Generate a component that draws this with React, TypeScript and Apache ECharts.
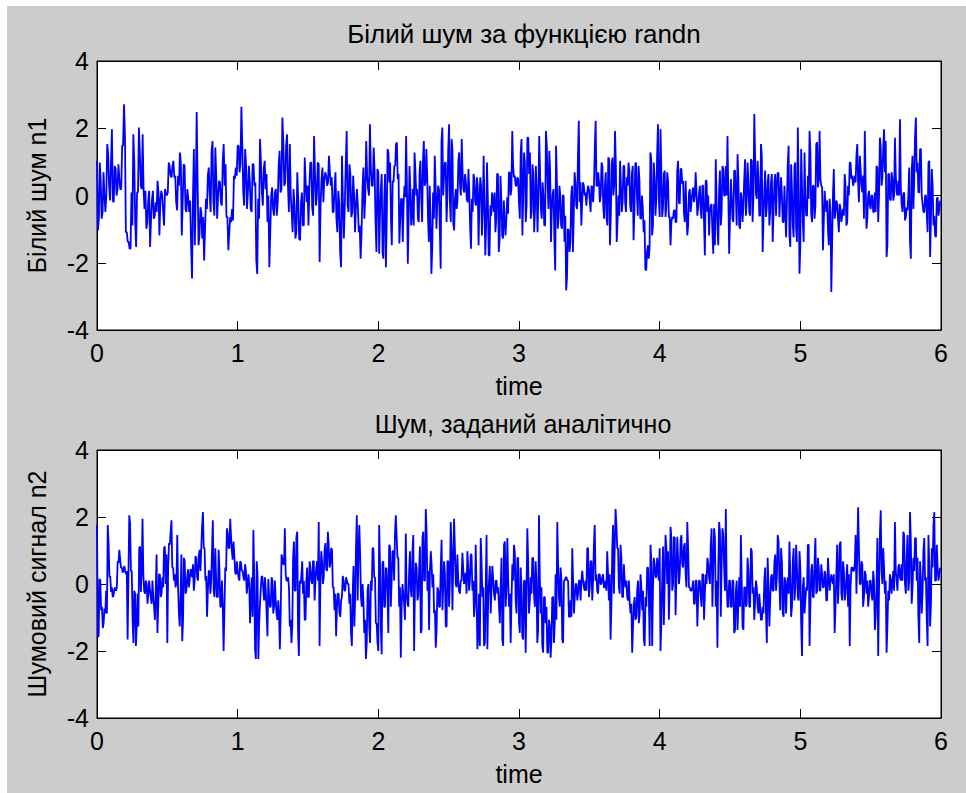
import React, { useEffect, useRef } from "react";
import * as echarts from "echarts";

// ---- data: each entry is one visible stroke [high, low] ----
const n1Part1: [number, number][] = [
  [1.03,-1.04],[0.98,-0.69],[0.44,-0.69],[0.69,-0.49],[0,-0.49],[1.53,0],[1.23,0.29],[0.93,-0.15],[1.97,-0.15],[0.88,-0.2],
  [0.79,0],[0.93,0.19],[0.49,0.19],[1.48,0.19],[2.71,1.48],[1.77,-1.09],[-1.09,-1.38],[-1.38,-1.58],[0.09,-1.58],[1.82,-0.89],
  [1.03,-0.79],[0.09,-1.53],[2.02,0.09],[1.28,0.29],[1.82,0.19],[0.19,-0.4],[0.14,-0.99],[-0.15,-0.79],[0.14,-1.53],[-0.15,-0.69],
  [0.14,-0.69],[-0.2,-0.6],[0.44,-0.49],[0.09,-1.19],[0.14,-0.15],[0,-0.49],[0.19,-0.89],[0.09,0],[0.98,0.09],[0.88,0.59],
  [0.88,0.54],[1.03,0.54],[0.59,-0.2],[0.59,-0.44],[1.28,0.29],[0.98,-1.19],[0.93,-0.2],[0.88,-0.4],[0.19,-0.49],[-0.1,-0.49],
  [-0.15,-1.48],[-0.05,-2.47],[1.38,-1.48],[2.48,0],[0.44,-1.48],[-0.35,-1.19],[-0.49,-1.28],[-0.64,-1.93],[-0.1,-0.99],[0.59,-0.4],
  [0.83,0],[1.33,-0.49],[1.62,-0.2],[1.43,-0.6],[0.59,-0.69],[0.44,0],[0.39,-0.2],[1.03,-0.3],[1.53,0.29],[0.93,-0.64],
  [-0.64,-1.63],[-0.64,-1.09],[-0.4,-0.79],[0.59,-0.74],[0.83,0.49],[1.48,0.59],[1.48,0.69],[2.64,0.98],[1.48,0.09],[1.38,-0.3],
  [0.93,-0.4],[0.88,0.09],[0.44,-0.4],[0.93,-0.49],[0.93,0.29],[0.39,-1.93],[-0.1,-2.33],[1.68,-0.69],[0.98,0.09],[0.79,-0.3],
  [1.03,0.19],[0.64,-0.79],[0,-2.13],[0,-1.09],[0.24,-0.4],[0.09,-0.6],[0.19,-0.6],[0.88,-0.2],[1.33,0.09],[2.32,0.19],
  [1.62,0.29],[1.48,0.39],[1.82,0.29],[1.53,-0.49],[0,-0.49],[0.19,-1.09],[-0.3,-1.28],[0.69,-1.09],[-0.1,-1.28],[-0.2,-1.33],
  [0.09,-0.89],[1.13,-0.89],[0.39,-0.2],[0.29,-0.89],[0.98,0.29],[0.98,-0.35],[1.77,-0.6],[0.69,-0.3],[0.98,0],[0.93,-1.98],
  [0.49,-0.3],[0.83,-0.2],[0.69,0.49],[0.59,0.29],[1.18,0.39],[0.69,0.29],[0.54,-0.49],[0.24,-0.49],[0.69,-0.69],[0.14,-1.09],
  [-0.2,-1.68],[1.18,-2.13],[-0.2,-1.28],[0.93,-0.3],[1.92,-0.3],[0.93,-0.49],[0.64,-0.64],[0.59,-0.49],[0,-1.09],[0.19,-0.3],
  [-0.3,-1.09],[-0.89,-1.88],[0.19,-1.09],[0.83,-0.69],[1.62,0],[0.59,0.19],[2.12,0],[0.79,0.29],[1.43,0.29],[0.74,-0.79],
  [0.79,-1.68],
];
const n1Part2: [number, number][] = [
  [0.69,-1.73],[0.19,-0.54],[0.64,-1.73],[-0.15,-1.88],[0.64,-2.13],[1.38,-0.69],[1.28,0.39],[0.98,-0.69],[0.44,-1.48],[0.88,0.39],
  [1.53,0.88],[1.58,0.49],[0.64,-1.43],[-0.1,-0.69],[-0.1,-1.38],[0.29,-0.3],[1.77,-0.05],[0.19,-2.03],[0.88,-0.69],[0.19,-0.89],
  [0.19,-0.54],[1.28,-0.89],[0.74,0],[0.19,-0.69],[0.74,-0.79],[1.03,-0.1],[1.03,-0.79],[1.62,0.29],[1.38,0.39],[0.59,-0.69],
  [0.29,-1.38],[-0.69,-2.33],[0.09,-1.58],[1.18,-0.69],[0.29,-0.99],[0.29,-0.2],[0.19,-0.99],[1.62,-2.18],[2.02,0],[0.98,0.59],
  [0.98,-0.79],[1.38,0],[2.12,-0.2],[1.68,-0.79],[1.38,-0.84],[-0.1,-1.04],[0.19,-0.4],[1.03,-0.15],[1.28,0.29],[1.68,0],
  [0.69,0.19],[0.64,0.09],[0.39,-0.1],[0.79,-0.2],[0.09,-0.94],[-0.1,-1.58],[0.64,-0.49],[0.49,-0.2],[0.54,-0.3],[0.29,-1.48],
  [0.54,-0.2],[0.29,-1.19],[1.18,-0.4],[-0.3,-1.78],[0.98,-0.89],[-0.1,-1.78],[-0.3,-1.78],[0.09,-0.6],[-0.15,-0.49],[0.09,-1.09],
  [0.64,-0.69],[0.64,-1.68],[0.59,-1.28],[-0.1,-1.19],[-0.15,-1.28],[-0.74,-1.19],[-0.05,-0.69],[0.69,-0.54],[0.69,0],[1.92,0.19],
  [0.88,0.54],[0.59,0.29],[0.54,0.29],[0.49,-0.2],[1.28,-0.69],[1.68,-1.19],[1.28,0],[0.98,-0.79],[1.72,-0.3],[1.72,0.64],
  [1.28,-0.69],[0.93,-0.49],[0.64,-1.09],[0.88,-0.4],[0.09,-1.09],[1.77,0],[0.69,-0.4],[0.39,-0.69],[0,-0.89],[1.92,-0.89],
  [1.48,0.29],[1.33,-0.4],[0.69,-1.38],[0.05,-0.4],[0.19,-1.33],[1.48,-2.23],[0.39,-0.99],[0.29,-0.69],[0,-0.89],[0,-0.99],
  [0,-1.38],[-0.6,-2.82],[-0.99,-2.42],[-1.04,-1.68],[0,-1.38],[0.29,-1.68],[0.69,-0.6],[0.39,-0.3],[1.18,-0.4],[2.22,-0.2],
  [0.39,-0.89],[0.39,-0.2],[0.29,0],[0.09,-0.3],[0.29,0.09],[0.19,-0.15],[0.29,-0.49],[0.24,-0.2],[1.43,0.29],[2.22,0.29],
  [0.69,0.29],[0.39,-0.2],[0.98,0],[0.88,-0.3],[0.29,-0.69],[0.69,-0.69],[1.13,-0.89],[1.08,-1.48],[0.93,-0.6],[1.13,0],
  [1.92,0.29],[0.88,-1.38],[0,-0.79],[1.03,-0.6],[0.34,-0.49],[0.88,-0.2],[0.88,-0.2],[0.54,-0.49],[0.98,0.29],[0.74,-0.3],
  [0.64,-0.49],[0.88,-1.33],[0.93,-0.49],[0.98,0],[0.88,-0.6],[0.44,-0.69],[0,-0.69],[-0.4,-1.09],[-0.74,-2.18],[-1.68,-2.23],
  [-1.48,-1.88],[1.28,-1.58],[1.08,-1.19],[0.98,-0.89],[0.49,-0.6],[1.23,-0.1],[2.12,-0.1],
];
const n1Part3: [number, number][] = [
  [1.97,-0.64],[0.74,-0.64],[0.64,-0.35],[0.74,-0.64],[0.69,-0.3],[0.44,-0.64],[-0.64,-1.48],[-0.64,-0.79],[-0.44,-0.69],[-0.44,-0.79],
  [0.74,-0.79],[1.03,-0.2],[0.79,-0.25],[0.79,0.34],[0.44,-0.49],[0.44,-0.79],[-0.44,-1.19],[0.09,-0.89],[0.19,-0.49],[0.09,-0.2],
  [0.24,-0.2],[0.69,0],[0.09,-0.6],[0.05,-0.35],[0.29,-0.44],[0.29,-0.69],[0.29,-0.79],[0.44,-1.78],[0.44,-0.49],[0,-1.19],
  [-0.3,-0.49],[-0.25,-1.09],[-0.25,-1.73],[1.08,-1.48],[-0.2,-0.99],[0.19,-1.48],[0.74,-0.89],[0.88,-0.49],[0.79,0],[0.88,0],
  [1.77,0],[0.05,-1.73],[0.49,-0.69],[0,-0.69],[0.74,-0.79],[0.74,0],[1.23,-0.89],[0.49,-0.89],[0.09,-0.99],[-0.1,-0.79],
  [0.49,-0.3],[1.08,-0.6],[0.98,-0.1],[0.39,-0.49],[1.08,-0.6],[1.03,-0.79],[2.42,0],[1.13,0.05],[1.03,-0.1],[0.49,-0.6],
  [1.53,-0.6],[1.18,-1.68],[0.14,-0.69],[0.74,-0.64],[0.39,-0.3],[0.64,-0.89],[0.39,-0.49],[0.64,-1.38],[0.39,-0.49],[0.64,-0.6],
  [0.69,0.29],[0.64,-0.64],[0.54,-0.05],[0,-0.79],[0.29,-0.79],[-0.49,-1.24],[0.93,-0.15],[1.48,-1.19],[0.93,-1.53],[0.19,-0.89],
  [0.88,-1.24],[0.98,-0.99],[2.02,-1.38],[0.29,-2.33],[1.38,-1.48],[0.29,-0.79],[1.28,-1.38],[-0.05,-0.6],[0.59,-0.6],[1.92,-0.1],
  [1.33,-0.54],[0.29,-0.79],[0.29,-0.69],[1.53,-0.3],[1.58,0.24],[1.92,0.49],[0.49,0.29],[0.24,-1.63],[0.14,-0.79],[-0.2,-0.49],
  [-0.15,-0.99],[-0.1,-1.48],[-0.49,-2.87],[0.05,-1.38],[0.79,-0.69],[-0.15,-0.49],[-0.25,-0.69],[-0.25,-1.09],[-0.4,-0.79],[-0.4,-0.6],
  [0.64,-0.6],[0.29,-0.89],[0.29,-0.79],[0.98,0],[0.98,0.49],[0.59,0.29],[0.59,0.39],[1.18,0.39],[1.53,0.39],[1.18,-0.2],
  [0.79,0.29],[0.59,0.09],[1.92,-0.69],[0.39,-0.99],[0,-0.69],[0.14,-0.3],[0,-0.4],[0,-0.49],[0.09,-0.49],[0.88,-0.49],
  [0.83,-0.79],[1.72,0],[1.48,0.29],[1.38,0.54],[1.97,0.69],[1.62,-1.83],[0.64,-1.48],[0.64,-0.1],[0.69,-0.15],[0.49,-0.15],
  [1.72,0],[0.59,0.09],[0.44,0],[2.27,0],[0.24,-0.25],[0.05,-0.49],[0.09,-0.74],[-0.35,-0.64],[0,-0.44],[0.83,-1.38],
  [0.74,-1.88],[1.18,-0.4],[1.77,0.44],[2.32,0.69],[0.98,0.09],[1.38,0.09],[1.38,0],[-0.25,-0.49],[0,-0.49],[0,-0.54],
  [0.98,-1.09],[1.03,-1.83],[0.79,-0.69],[0.29,-0.89],[-0.6,-1.19],[-0.1,-1.24],[-0.05,-0.6],[-0.15,-0.4],
];
const n2Part1: [number, number][] = [
  [1.76,-1.56],[0.15,-1.56],[0.1,-0.78],[-0.68,-1.32],[-0.73,-1.17],[-0.2,-0.88],[1.76,-0.88],[1.22,0.2],[0.24,-0.24],[-0.1,-0.39],
  [-0.15,-0.34],[-0.1,-0.2],[0.68,-0.1],[1.02,0.63],[0.73,0.49],[0.49,0.34],[0.54,0.39],[0.39,0.29],[0.39,-1.66],[2.05,0.2],
  [1.8,0.39],[0.39,-1.07],[-0.2,-1.76],[-0.29,-1.85],[-0.29,-1.27],[1.07,-1.27],[1.12,-0.24],[1.95,0.39],[0.29,-0.2],[0.1,-0.29],
  [0,-0.59],[0.1,-0.29],[-0.2,-0.39],[0.1,-0.59],[-0.39,-0.68],[-0.2,-1.07],[0.88,-1.46],[0.29,-0.68],[0.29,-0.39],[0.2,-0.29],
  [1.07,-0.1],[1.12,0],[0.88,-1.76],[1.22,0.49],[1.56,1.17],[1.9,0.49],[0.49,0.1],[0.29,-0.1],[1.46,0.05],[-0.1,-0.88],
  [-0.39,-1.27],[0.88,-1.71],[0.78,-1.07],[0.68,-0.29],[0.2,-0.2],[0.44,-0.1],[0.44,0.1],[0.39,0.2],[0.59,-0.2],[0.83,0.1],
  [0.78,0.2],[0.83,0.1],[1.02,0.39],[1.71,1.07],[2.15,1.07],[1.07,0.1],[0.24,-0.98],[0.39,-0.2],[0.39,-0.29],[1.02,0.1],
  [1.9,-0.2],[1.07,-0.39],[0.1,-0.39],[1.02,-0.39],[0.44,-0.68],[0.1,-0.68],[-0.68,-2.0],[0.49,-0.78],[1.66,0.39],[1.51,1.07],
  [1.95,1.07],[1.41,0.98],[1.27,0.73],[0.83,0.34],[0.68,0.29],[0.39,0.2],[0.68,0.1],[0.63,0.39],[0.39,0.2],[0.59,0.1],
  [0.39,-0.29],[0.29,0],[0,-1.17],[0.2,-0.39],[1.61,-0.98],[0.2,-1.95],[0.68,-2.24],[0.29,-2.24],[-0.59,-1.17],[0.24,-0.1],
  [0.2,-0.2],[0.2,-0.49],[-0.2,-0.88],[0.15,-1.56],[-0.39,-0.68],[0.2,-0.68],[0.1,-0.88],[0.1,-0.68],[-0.49,-0.88],[-0.49,-1.07],
  [-0.88,-1.95],[0.88,-0.88],[0.78,0.59],[1.66,0.59],[0.29,0.1],[0.2,0.1],[-0.1,-1.27],[-1.07,-1.76],[0.78,-1.27],[1.27,-0.2],
  [1.41,-0.2],[1.56,-1.46],[0.1,-2.15],[0.24,0],[0.68,-0.29],[0.1,-1.07],[0.1,-1.07],[0.49,-0.39],[0.68,-0.39],[0.44,0.1],
  [0.68,0],[0.68,-0.49],[0.49,0.1],[0.68,0.1],[1.85,-1.85],[0.98,0],[0.68,0],[1.02,0.2],[1.22,0.44],[1.56,0.39],
  [1.17,0.49],[1.07,0.59],[1.02,-0.1],[-0.1,-0.78],[-0.29,-1.56],[-0.29,-0.68],[-0.29,-0.88],[-0.49,-0.98],[0.24,-0.39],[0.1,-0.2],
  [0.2,-0.2],[0.1,0],[0,-0.59],[-0.29,-1.46],[-0.29,-1.85],[0.54,-1.27],[1.07,-0.39],[2.05,-0.49],[1.76,0.88],[0.88,-0.39],
  [0,-0.68],[-0.49,-1.46],[-1.07,-2.24],[-0.2,-1.76],[0,-1.27],[0.1,-1.76],[1.07,-0.2],[1.07,0.2],[0.2,-1.17],[-1.17,-1.76],
];
const n2Part2: [number, number][] = [
  [1.76,-2.0],[0.63,-1.27],[0.63,-2.1],[0.68,-0.68],[0.49,-0.68],[0.44,-0.29],[1.17,-1.46],[1.12,-0.68],[0.98,0.1],[0.98,0.1],
  [2.05,1.46],[1.41,0.78],[0.78,-0.68],[-0.1,-2.2],[0,-0.68],[-0.29,-0.59],[1.51,-1.07],[-0.29,-0.59],[0.39,-0.68],[0.98,-0.2],
  [0.98,-0.39],[1.46,-2.0],[0.63,-0.1],[0.49,-0.49],[0.39,-0.34],[1.12,-1.46],[1.37,-1.37],[1.56,0.1],[2.24,0.1],[1.56,-0.2],
  [0.39,-1.37],[0.98,0.39],[0.59,-0.1],[0.29,-0.88],[-0.78,-1.9],[-0.1,-1.37],[-0.2,-0.68],[0.49,-0.68],[1.32,-0.78],[0.68,-0.1],
  [0.29,-1.27],[0.68,-1.27],[0.68,-0.68],[1.85,0.1],[1.07,-0.78],[1.95,0.59],[1.07,0],[0.88,-0.1],[0.1,-0.2],[0.1,-0.29],
  [0.93,0.1],[0.44,0],[0.34,0.2],[0.98,-0.29],[0.49,-0.2],[0.88,0.1],[0.88,-0.2],[0.1,-0.98],[1.17,-0.59],[-0.2,-1.95],
  [-0.29,-1.46],[1.37,-1.85],[0.68,-0.39],[-0.1,-1.85],[-0.2,-1.76],[1.46,-1.95],[0.1,-0.39],[0.54,-0.88],[0.54,-0.1],[0.1,-0.29],
  [0.1,-0.49],[0.1,-0.29],[-0.1,-0.68],[-0.1,-1.17],[0.78,-1.66],[1.17,-1.85],[1.27,-0.68],[1.37,-0.1],[0.1,-0.68],[-0.29,-1.76],
  [0.59,-0.49],[1.17,0.1],[0.93,-0.49],[0.78,-0.88],[0.78,-1.17],[0.49,-1.46],[-0.1,-1.56],[0.1,-1.66],[0.1,-2.05],[1.66,-0.39],
  [0.68,-0.88],[0.2,-0.49],[0.78,-0.29],[0.78,-0.29],[0.68,-0.68],[0.1,-1.76],[2.05,-1.37],[0.2,-0.88],[-0.1,-1.85],[-0.39,-2.05],
  [-0.39,-1.17],[-0.68,-2.05],[-1.07,-2.05],[-1.27,-2.2],[-0.39,-1.66],[-0.39,-1.76],[0.29,-1.17],[1.85,-1.07],[0.59,-0.39],[0.49,-0.68],
  [0.1,-1.66],[0.1,-1.76],[0.2,0.1],[0.2,0.1],[0.1,-0.98],[-0.49,-0.98],[1.07,-0.98],[0.1,-0.88],[0,-0.39],[0,-0.49],
  [0.1,-0.29],[0.1,-0.49],[0.39,0.1],[0.1,-0.1],[0.1,-0.2],[1.07,-0.2],[1.07,-0.39],[0.68,-0.1],[0.68,-0.49],[1.17,0.1],
  [1.76,0.1],[0.29,-0.2],[0.29,-0.29],[0.29,0],[0.2,0],[0.29,-0.1],[0.1,-0.1],[0.98,-0.2],[0.29,-0.49],[0.29,-1.66],
  [0.98,-0.68],[1.76,-0.29],[2.24,1.07],[1.76,1.07],[1.07,-0.1],[1.17,-0.29],[0.78,-0.39],[0.59,-0.39],[0.1,-0.1],[0.1,-0.39],
  [0.1,-0.49],[-0.59,-0.88],[-0.59,-2.05],[-0.59,-1.27],[-0.39,-1.07],[-0.2,-0.98],[0.1,-1.17],[0.29,-0.88],[-0.1,-0.78],[-0.2,-1.66],
  [-0.39,-1.85],[0.49,-0.68],[0.49,-0.39],[1.17,-1.85],[0.68,-1.85],[0.78,-0.1],[0.59,0.2],[0.78,0.2],[0.49,0.1],
];
const n2Part3: [number, number][] = [
  [1.07,-2.0],[0.1,-1.17],[1.12,-1.22],[1.46,0.1],[1.07,0],[0.98,-1.07],[1.71,0],[1.37,-0.2],[1.41,0],[1.37,-0.93],
  [1.41,0.2],[0.78,0],[1.32,0.29],[1.46,0.59],[1.12,0.49],[1.22,0.29],[1.85,-0.1],[1.07,-0.1],[-0.1,-0.2],[-0.1,-0.2],
  [0.1,-0.59],[0.1,-0.59],[0.1,-1.27],[0.1,-0.39],[0.1,-0.39],[0.29,-0.68],[0.29,-1.07],[0.29,-0.29],[0.78,0],[0.59,0.2],
  [1.17,0],[1.66,-0.68],[1.66,0.49],[1.37,-0.68],[0.1,-1.9],[1.85,0.49],[1.56,-0.98],[1.66,0.59],[1.46,0.49],[2.24,-0.2],
  [0.1,-0.68],[0.1,-0.68],[0.1,-0.68],[0.1,-0.68],[0.1,-1.46],[-0.2,-1.37],[0.1,-1.37],[0.2,-0.59],[1.46,-0.68],[0.1,-1.27],
  [-0.1,-1.37],[-0.1,-0.68],[0.78,-0.59],[0.39,-0.68],[1.07,-0.68],[0.98,-0.29],[-0.1,-1.07],[0.1,-0.49],[-0.1,-0.68],[-0.29,-0.88],
  [-0.68,-1.07],[-0.68,-1.07],[0.1,-0.88],[0.49,-0.88],[0.78,-1.76],[-0.1,-1.27],[0.2,-0.49],[0.29,-0.2],[0.63,-0.2],[0.88,-0.2],
  [1.46,0.2],[1.27,0.1],[1.07,-0.78],[0.68,-0.88],[0.2,-0.98],[0.1,-0.88],[0.2,-0.1],[1.27,-0.29],[0.29,-0.98],[0.68,-0.68],
  [1.07,-0.49],[1.17,-0.1],[0.49,-0.39],[0.98,-0.49],[0.49,-1.17],[-0.1,-2.15],[0.2,-0.88],[-0.1,-0.49],[1.17,-0.2],[1.17,-1.85],
  [0.39,-0.68],[0.59,-0.39],[0.68,-0.39],[1.37,-0.29],[0.78,-0.2],[0.49,-0.2],[0.59,-0.2],[0.29,-0.1],[0.39,-0.1],[0.29,-0.49],
  [0.78,-0.49],[0.29,-0.2],[0.29,0.1],[0.1,0],[0.29,-1.46],[0.29,-0.68],[1.17,-0.59],[1.17,0.1],[1.27,-0.29],[0.68,-0.49],
  [0.39,-0.49],[0.2,-0.29],[0.59,-0.68],[0.29,-1.85],[0.49,-0.1],[0.49,0.39],[0.59,0.39],[1.46,-0.29],[2.29,0.88],[1.07,0],
  [0.68,0],[0.59,-0.68],[0.39,-0.39],[0.29,-0.29],[0.1,-0.68],[0.1,-0.39],[0.1,-0.29],[0.39,-0.49],[0.1,-1.37],[-0.1,-0.98],
  [1.37,-2.15],[1.46,-0.1],[2.2,0.39],[1.07,0],[0.49,-0.29],[0.1,-2.05],[-0.2,-1.27],[0.29,-0.49],[0.1,-0.29],[0.39,0.1],
  [1.85,-0.2],[0.39,0.1],[0.49,-0.2],[0.59,0.2],[0.59,0.1],[1.56,0.1],[1.46,0],[0.78,-0.29],[1.46,-0.2],[2.15,0.1],
  [1.27,-0.59],[0.78,-0.1],[1.37,0.39],[1.37,0.1],[0.78,-0.98],[0.68,-1.76],[0.1,-0.88],[0.98,-0.2],[1.37,0.1],[0.2,-1.07],
  [1.46,-1.85],[0.59,-1.27],[1.07,-0.59],[1.76,0.49],[2.15,0.1],[1.17,0.1],[0.49,0.1],[0.49,0.29],
];

const timeTicks = [0, 1, 2, 3, 4, 5, 6];
const valueTicks = [-4, -2, 0, 2, 4];

const FONT = "Arial, 'Liberation Sans', Helvetica, sans-serif";

function buildLine(
  parts: [number, number][][],
  ranges: [number, number][],
  startHigh: boolean
): [number, number][] {
  const out: [number, number][] = [];
  let prev = startHigh ? Infinity : -Infinity;
  parts.forEach((part, pi) => {
    const [t0, t1] = ranges[pi];
    const step = (t1 - t0) / part.length;
    part.forEach(([hi, lo], i) => {
      const t = t0 + i * step;
      const hiFirst = Math.abs(hi - prev) <= Math.abs(lo - prev);
      const a = hiFirst ? hi : lo;
      const b = hiFirst ? lo : hi;
      out.push([t, a]);
      out.push([t + step * 0.5, b]);
      prev = b;
    });
  });
  return out;
}

const ranges: [number, number][] = [[0, 2], [2, 4], [4, 6]];

export default function App() {
  const ref = useRef<HTMLDivElement>(null);

  useEffect(() => {
    if (!ref.current) return;
    const chart = echarts.init(ref.current, undefined, { renderer: "svg" });
    const n1 = buildLine([n1Part1, n1Part2, n1Part3], ranges, false);
    const n2 = buildLine([n2Part1, n2Part2, n2Part3], ranges, true);

    const xMin = timeTicks[0];
    const xMax = timeTicks[timeTicks.length - 1];
    const yMin = valueTicks[0];
    const yMax = valueTicks[valueTicks.length - 1];

    const labelStyle = { color: "#000", fontSize: 25, fontFamily: FONT };
    const tick = { show: true, inside: true, length: 9, lineStyle: { color: "#000", width: 1 } };
    const line = { show: true, onZero: false, lineStyle: { color: "#000", width: 1 } };

    const xBase = (grid: number, top: boolean) => ({
      type: "value" as const,
      gridIndex: grid,
      position: top ? ("top" as const) : ("bottom" as const),
      min: xMin,
      max: xMax,
      interval: 1,
      axisLine: line,
      axisTick: tick,
      splitLine: { show: false },
      axisLabel: top ? { show: false } : { ...labelStyle, margin: 10 },
      name: top ? "" : "time",
      nameLocation: "middle" as const,
      nameGap: 43,
      nameTextStyle: labelStyle,
    });
    const yBase = (grid: number, right: boolean, name: string) => ({
      type: "value" as const,
      gridIndex: grid,
      position: right ? ("right" as const) : ("left" as const),
      min: yMin,
      max: yMax,
      interval: 2,
      axisLine: line,
      axisTick: tick,
      splitLine: { show: false },
      axisLabel: right ? { show: false } : { ...labelStyle, margin: 8 },
      name: right ? "" : name,
      nameLocation: "middle" as const,
      nameRotate: 90,
      nameGap: 48,
      nameTextStyle: labelStyle,
    });

    chart.setOption({
      animation: false,
      backgroundColor: "#cccccc",
      title: [
        {
          text: "Білий шум за функцією randn",
          left: 512,
          textAlign: "center",
          top: 10,
          textStyle: { ...labelStyle, fontSize: 26, fontWeight: "normal" },
        },
        {
          text: "Шум, заданий аналітично",
          left: 511,
          textAlign: "center",
          top: 400,
          textStyle: { ...labelStyle, fontWeight: "normal" },
        },
      ],
      grid: [
        { left: 90, top: 55, width: 844, height: 269, show: true, backgroundColor: "#ffffff", borderColor: "#000", borderWidth: 1 },
        { left: 90, top: 444, width: 844, height: 268, show: true, backgroundColor: "#ffffff", borderColor: "#000", borderWidth: 1 },
      ],
      xAxis: [xBase(0, false), xBase(0, true), xBase(1, false), xBase(1, true)],
      yAxis: [
        yBase(0, false, "Білий шум n1"),
        yBase(0, true, ""),
        yBase(1, false, "Шумовий сигнал n2"),
        yBase(1, true, ""),
      ],
      series: [
        {
          type: "line",
          xAxisIndex: 0,
          yAxisIndex: 0,
          data: n1,
          showSymbol: false,
          symbol: "none",
          lineStyle: { color: "#0000ff", width: 1.8 },
          itemStyle: { color: "#0000ff" },
        },
        {
          type: "line",
          xAxisIndex: 2,
          yAxisIndex: 2,
          data: n2,
          showSymbol: false,
          symbol: "none",
          lineStyle: { color: "#0000ff", width: 1.8 },
          itemStyle: { color: "#0000ff" },
        },
      ],
    });
    return () => chart.dispose();
  }, []);

  return (
    <div
      ref={ref}
      style={{ position: "absolute", left: 7, top: 6, width: 959, height: 787 }}
    />
  );
}
